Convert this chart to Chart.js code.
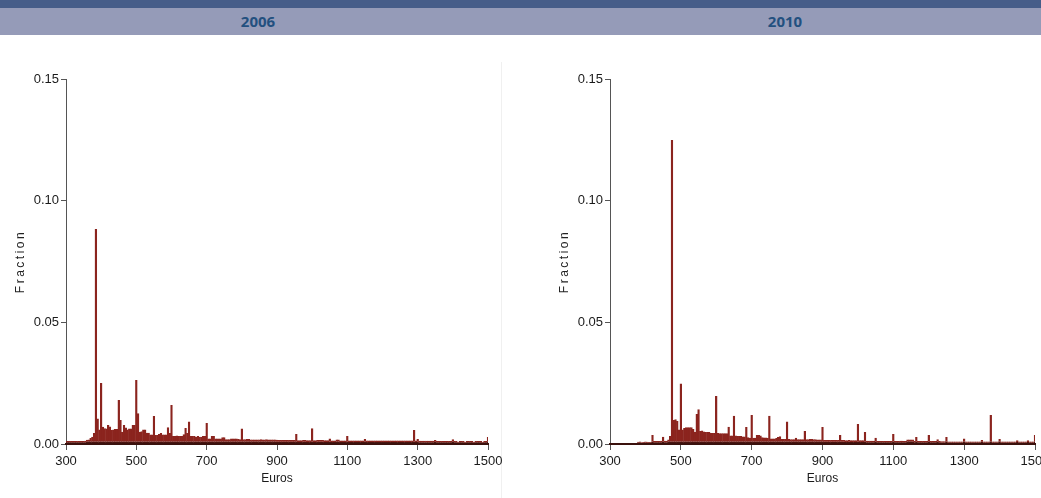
<!DOCTYPE html>
<html>
<head>
<meta charset="utf-8">
<script src="https://cdn.jsdelivr.net/npm/chart.js@4.4.1/dist/chart.umd.min.js"></script>
<style>
  html, body { margin: 0; padding: 0; background: #fff; overflow: hidden; width: 1041px; height: 498px; position: relative; }
  #topbar { position: absolute; left: 0; top: 0; width: 1041px; height: 8px; background: #465d89; }
  #band   { position: absolute; left: 0; top: 8px; width: 1041px; height: 27px; background: #959bb8; }
  .yr     { position: absolute; top: 11px; height: 24px; line-height: 24px; width: 100px; text-align: center;
            font: 700 15px 'Open Sans', sans-serif; color: #23507f; }
  #sep    { position: absolute; left: 501px; top: 62px; width: 1px; height: 436px; background: #f0f0f0; }
  canvas  { position: absolute; top: 36px; }
</style>
</head>
<body>
<div id="topbar"></div>
<div id="band"></div>
<div class="yr" style="left:208px">2006</div>
<div class="yr" style="left:735px">2010</div>
<div id="sep"></div>
<canvas id="c2006" width="530" height="462" style="left:0"></canvas>
<canvas id="c2010" width="560" height="462" style="left:501px"></canvas>
<script>
// ── Data: share of workers per 5-euro wage bin (bin centres 300 … 1500) ──
const BIN_START = 300;
const BIN_WIDTH = 5;
const xTicks = [300, 500, 700, 900, 1100, 1300, 1500];
const yTicks = [0, 0.05, 0.10, 0.15];

const frac2006 = [
  0.0012,0.0012,0.0012,0.0012,0.0012,0.0012,0.0012,0.0012,0.0012,0.0012, // 300
  0.0012,0.0013,0.0017,0.0019,0.0025,0.0030,0.0045,0.0884,0.0105,0.0060, // 350
  0.0251,0.0071,0.0065,0.0064,0.0078,0.0072,0.0058,0.0060,0.0062,0.0062, // 400
  0.0181,0.0099,0.0050,0.0078,0.0068,0.0060,0.0064,0.0064,0.0078,0.0078, // 450
  0.0263,0.0126,0.0050,0.0052,0.0060,0.0060,0.0046,0.0046,0.0039,0.0039, // 500
  0.0115,0.0037,0.0037,0.0041,0.0045,0.0039,0.0039,0.0039,0.0069,0.0045, // 550
  0.0160,0.0033,0.0033,0.0035,0.0033,0.0033,0.0033,0.0040,0.0066,0.0045, // 600
  0.0092,0.0033,0.0033,0.0033,0.0030,0.0033,0.0030,0.0030,0.0033,0.0033, // 650
  0.0086,0.0023,0.0023,0.0033,0.0033,0.0023,0.0023,0.0023,0.0023,0.0028, // 700
  0.0028,0.0020,0.0020,0.0020,0.0023,0.0023,0.0023,0.0023,0.0021,0.0020, // 750
  0.0064,0.0020,0.0020,0.0021,0.0021,0.0019,0.0019,0.0019,0.0019,0.0019, // 800
  0.0019,0.0020,0.0019,0.0019,0.0020,0.0019,0.0019,0.0019,0.0018,0.0018, // 850
  0.0017,0.0016,0.0016,0.0016,0.0016,0.0016,0.0016,0.0016,0.0016,0.0016, // 900
  0.0016,0.0041,0.0015,0.0015,0.0015,0.0016,0.0016,0.0015,0.0015,0.0015, // 950
  0.0065,0.0015,0.0015,0.0016,0.0016,0.0016,0.0016,0.0015,0.0015,0.0015, // 1000
  0.0023,0.0014,0.0014,0.0014,0.0019,0.0019,0.0014,0.0014,0.0014,0.0014, // 1050
  0.0033,0.0014,0.0014,0.0014,0.0014,0.0014,0.0014,0.0014,0.0014,0.0014, // 1100
  0.0021,0.0014,0.0014,0.0014,0.0014,0.0014,0.0014,0.0014,0.0014,0.0014, // 1150
  0.0014,0.0014,0.0014,0.0014,0.0014,0.0014,0.0014,0.0014,0.0014,0.0014, // 1200
  0.0014,0.0014,0.0014,0.0014,0.0014,0.0014,0.0014,0.0014,0.0058,0.0014, // 1250
  0.0021,0.0013,0.0013,0.0013,0.0013,0.0013,0.0013,0.0013,0.0013,0.0013, // 1300
  0.0016,0.0012,0.0012,0.0012,0.0012,0.0012,0.0012,0.0012,0.0012,0.0012, // 1350
  0.0020,0.0012,0.0012,0.0008,0.0012,0.0012,0.0012,0.0008,0.0012,0.0012, // 1400
  0.0012,0.0012,0.0008,0.0012,0.0012,0.0012,0.0012,0.0008,0.0012,0.0012, // 1450
  0.0029                                                                  // 1500
];

const frac2010 = [
  0,0,0,0,0,0,0,0,0,0,                                                   // 300
  0,0,0,0,0,0,0.0009,0.0010,0.0007,0.0008,                               // 350
  0.0010,0.0009,0.0008,0.0008,0.0037,0.0012,0.0012,0.0012,0.0012,0.0013, // 400
  0.0030,0.0013,0.0013,0.0018,0.0033,0.1249,0.0099,0.0102,0.0095,0.0060, // 450
  0.0249,0.0060,0.0066,0.0069,0.0069,0.0069,0.0069,0.0062,0.0050,0.0123, // 500
  0.0143,0.0053,0.0055,0.0051,0.0049,0.0049,0.0049,0.0045,0.0045,0.0045, // 550
  0.0197,0.0045,0.0044,0.0044,0.0044,0.0044,0.0044,0.0071,0.0035,0.0035, // 600
  0.0116,0.0035,0.0033,0.0033,0.0033,0.0031,0.0031,0.0070,0.0028,0.0026, // 650
  0.0119,0.0026,0.0026,0.0037,0.0037,0.0035,0.0028,0.0027,0.0027,0.0026, // 700
  0.0116,0.0023,0.0023,0.0023,0.0025,0.0029,0.0032,0.0021,0.0021,0.0021, // 750
  0.0092,0.0021,0.0020,0.0020,0.0020,0.0026,0.0020,0.0020,0.0020,0.0020, // 800
  0.0053,0.0020,0.0020,0.0021,0.0021,0.0020,0.0020,0.0019,0.0018,0.0018, // 850
  0.0070,0.0016,0.0016,0.0016,0.0016,0.0016,0.0016,0.0016,0.0016,0.0016, // 900
  0.0037,0.0016,0.0016,0.0015,0.0015,0.0016,0.0015,0.0015,0.0015,0.0015, // 950
  0.0082,0.0015,0.0015,0.0015,0.0049,0.0013,0.0013,0.0013,0.0013,0.0013, // 1000
  0.0026,0.0012,0.0012,0.0012,0.0012,0.0012,0.0012,0.0012,0.0012,0.0012, // 1050
  0.0041,0.0012,0.0012,0.0012,0.0013,0.0013,0.0012,0.0012,0.0019,0.0019, // 1100
  0.0019,0.0019,0.0012,0.0029,0.0012,0.0012,0.0012,0.0012,0.0012,0.0012, // 1150
  0.0037,0.0012,0.0012,0.0012,0.0012,0.0020,0.0012,0.0011,0.0011,0.0011, // 1200
  0.0029,0.0010,0.0010,0.0010,0.0010,0.0010,0.0010,0.0010,0.0010,0.0010, // 1250
  0.0023,0.0010,0.0010,0.0010,0.0010,0.0010,0.0010,0.0010,0.0010,0.0010, // 1300
  0.0016,0.0010,0.0010,0.0010,0.0010,0.0119,0.0010,0.0010,0.0010,0.0010, // 1350
  0.0021,0.0010,0.0010,0.0010,0.0010,0.0010,0.0010,0.0010,0.0010,0.0010, // 1400
  0.0015,0.0010,0.0010,0.0010,0.0010,0.0010,0.0015,0.0010,0.0010,0.0010, // 1450
  0.0037                                                                  // 1500
];

// ── Chart setup ──────────────────────────────────────────────────────────
const BAR   = '#8b241e';
const BASE  = '#4a1410';
const AXIS  = '#555';
const TEXT  = '#1a1a1a';
const SANS  = "'Liberation Sans', Arial, sans-serif";

// rotated, letter-spaced "Fraction" label
const yTitle = {
  id: 'yTitle',
  afterDraw(chart) {
    const { ctx, chartArea, scales } = chart;
    ctx.save();
    ctx.translate(scales.y.left + 21, (chartArea.top + chartArea.bottom) / 2);
    ctx.rotate(-Math.PI / 2);
    ctx.font = "12px " + SANS;
    ctx.letterSpacing = '2.5px';
    ctx.fillStyle = '#222';
    ctx.textAlign = 'center';
    ctx.textBaseline = 'middle';
    ctx.fillText('Fraction', 0, 0);
    ctx.restore();
  },
};

function makeChart(id, values, padLeft, padRight) {
  const points = values.map((v, i) => ({ x: BIN_START + i * BIN_WIDTH, y: v }));
  return new Chart(document.getElementById(id), {
    type: 'bar',
    data: {
      datasets: [{
        data: points,
        backgroundColor: BAR,
        borderColor: BASE,
        borderWidth: { top: 0, left: 0, right: 0, bottom: 2 },
        borderSkipped: false,
        categoryPercentage: 1,
        barPercentage: 1.4,
      }],
    },
    options: {
      responsive: false,
      animation: false,
      layout: { padding: { left: padLeft, right: padRight, top: 43, bottom: 0 } },
      plugins: { legend: { display: false }, tooltip: { enabled: false } },
      scales: {
        x: {
          type: 'linear',
          min: 300, max: 1500,
          offset: false,
          afterBuildTicks: s => { s.ticks = xTicks.map(v => ({ value: v })); },
          afterFit: s => { s.height = 54; },
          grid: { offset: false, drawOnChartArea: false, color: AXIS, tickLength: 6 },
          border: { color: '#3a110d', width: 2, z: 1 },
          ticks: { color: TEXT, padding: 4, maxRotation: 0, callback: v => String(v), font: { family: SANS, size: 13 } },
          title: {
            display: true, text: 'Euros', color: TEXT,
            font: { family: SANS, size: 12 },
            padding: { top: 0, bottom: 12 },
          },
        },
        y: {
          min: 0, max: 0.15,
          afterBuildTicks: s => { s.ticks = yTicks.map(v => ({ value: v })); },
          afterFit: s => { s.width = 66; },
          grid: { drawOnChartArea: false, color: AXIS, tickLength: 5 },
          border: { color: AXIS },
          ticks: { color: TEXT, padding: 2, callback: v => v.toFixed(2), font: { family: SANS, size: 13 } },
        },
      },
    },
    plugins: [yTitle],
  });
}

makeChart('c2006', frac2006, 0, 42);
makeChart('c2010', frac2010, 43, 26);
</script>
</body>
</html>
